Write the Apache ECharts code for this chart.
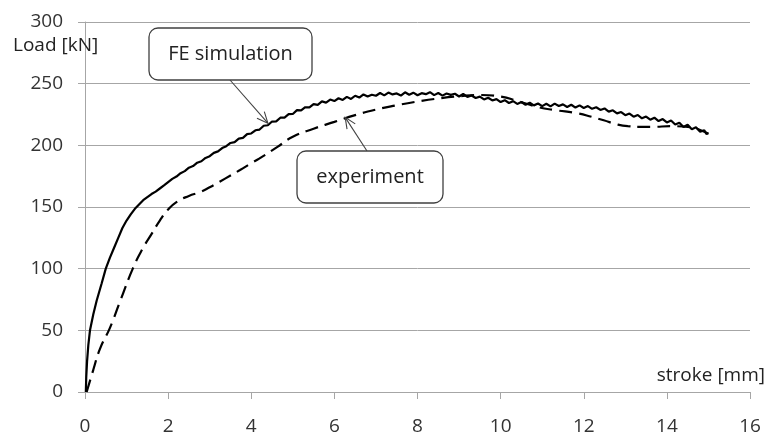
<!DOCTYPE html>
<html>
<head>
<meta charset="utf-8">
<title>Load - stroke</title>
<script src="https://cdn.jsdelivr.net/npm/echarts@6/dist/echarts.min.js"></script>
<style>
    html, body { margin: 0; padding: 0; background: #fff; }
    #curve_show { width: 770px; height: 437px; }
</style>
</head>
<body>
<div id="curve_show"></div>
<script>
// 轴刻度
var xTicks = [0, 2, 4, 6, 8, 10, 12, 14, 16];
var yTicks = [0, 50, 100, 150, 200, 250, 300];

// FE simulation: [stroke mm, load kN]
var feCurve = [
    [0.02, 0], [0.03, 12], [0.05, 25], [0.08, 38], [0.12, 50], [0.2, 63], [0.28, 74],
    [0.4, 88], [0.5, 100], [0.6, 109], [0.7, 117], [0.8, 125], [0.9, 133], [1.0, 139],
    [1.1, 144], [1.2, 148.5], [1.3, 152], [1.4, 155.5], [1.5, 158], [1.6, 160.5],
    [1.7, 162.5], [1.8, 165], [1.9, 167.5],
    [2.0, 170.2], [2.1, 172.8], [2.2, 174.7], [2.3, 177.4], [2.4, 179.1], [2.5, 181.9],
    [2.6, 183.2], [2.7, 185.9], [2.8, 187.1], [2.9, 189.8], [3.0, 191.2], [3.1, 193.9],
    [3.2, 195.1], [3.3, 197.8], [3.4, 199.3], [3.5, 201.9], [3.6, 202.6], [3.7, 205.5],
    [3.8, 206.0], [3.9, 209.1], [4.0, 209.6], [4.1, 212.2], [4.2, 212.8], [4.3, 215.9],
    [4.4, 216.3], [4.5, 219.3], [4.6, 219.4], [4.7, 222.4], [4.8, 222.5], [4.9, 225.3],
    [5.0, 225.4], [5.1, 228.5], [5.2, 228.3], [5.3, 230.9], [5.4, 230.7], [5.5, 233.4],
    [5.6, 232.8], [5.7, 235.6], [5.8, 234.6], [5.9, 237.1], [6.0, 235.9], [6.1, 238.2],
    [6.2, 236.8], [6.3, 239.3], [6.4, 237.6], [6.5, 240.2], [6.6, 238.7], [6.7, 241.3],
    [6.8, 239.6], [6.9, 241.0], [7.0, 240.2], [7.1, 242.4], [7.2, 240.5], [7.3, 242.8],
    [7.4, 241.3], [7.5, 242.1], [7.6, 240.4], [7.7, 243.0], [7.8, 241.0], [7.9, 242.7],
    [8.0, 240.6], [8.1, 242.3], [8.2, 241.5], [8.3, 243.1], [8.4, 240.7], [8.5, 242.4],
    [8.6, 240.3], [8.7, 242.0], [8.8, 240.9], [8.9, 241.8], [9.0, 239.6], [9.1, 241.6],
    [9.2, 239.3], [9.3, 240.4], [9.4, 238.4], [9.5, 239.5], [9.6, 237.2], [9.7, 238.6],
    [9.8, 236.4], [9.9, 237.5], [10.0, 235.1], [10.1, 236.6], [10.2, 234.3], [10.3, 235.8],
    [10.4, 233.6], [10.5, 235.1], [10.6, 232.9], [10.7, 234.5], [10.8, 232.4], [10.9, 233.9],
    [11.0, 231.8], [11.1, 233.7], [11.2, 231.6], [11.3, 233.8], [11.4, 231.9], [11.5, 233.2],
    [11.6, 231.1], [11.7, 232.9], [11.8, 230.6], [11.9, 232.4], [12.0, 230.3], [12.1, 231.8],
    [12.2, 229.6], [12.3, 230.9], [12.4, 228.7], [12.5, 229.9], [12.6, 227.3], [12.7, 228.4],
    [12.8, 225.9], [12.9, 227.0], [13.0, 224.4], [13.1, 225.8], [13.2, 223.2], [13.3, 224.6],
    [13.4, 221.9], [13.5, 223.3], [13.6, 220.8], [13.7, 222.4], [13.8, 219.7], [13.9, 221.3],
    [14.0, 218.6], [14.1, 220.1], [14.2, 216.9], [14.3, 218.4], [14.4, 214.8], [14.5, 216.7],
    [14.6, 213.1], [14.7, 214.6], [14.8, 211.0], [14.9, 212.2], [14.95, 209.3], [15.0, 209.8]
];

// experiment (虚线)
var expCurve = [
    [0.04, 0], [0.2, 18], [0.36, 35], [0.6, 52], [0.85, 74], [1.15, 100], [1.4, 117],
    [1.6, 128], [1.8, 139], [2.0, 148], [2.2, 154], [2.5, 159], [2.76, 162], [3.0, 166],
    [3.24, 170.5], [3.5, 175.5], [3.73, 180], [4.0, 185.5], [4.2, 189.4], [4.64, 199],
    [5.0, 207], [5.5, 213.5], [6.0, 219], [6.5, 224.5], [7.0, 229], [7.5, 232.5],
    [8.0, 235.5], [8.5, 238], [9.0, 239.8], [9.5, 240.8], [10.0, 239.5], [10.4, 236],
    [10.9, 231], [11.3, 228.6], [11.85, 226], [12.2, 223], [12.48, 220.3], [12.8, 217],
    [13.06, 215.5], [13.4, 215], [13.66, 215], [14.1, 215.5], [14.6, 214.5], [14.8, 212.5],
    [15.0, 209.5]
];

// 标注箭头指向的点
var feTip = [4.4, 218];
var expTip = [6.26, 222.7];

var font = '"Open Sans", "Noto Sans", sans-serif';
var gridColor = '#a6a6a6';

var myChart = echarts.init(document.getElementById('curve_show'));

var option = {
    animation: false,
    grid: {
        left: 85,
        right: 20,
        top: 22,
        bottom: 45
    },
    xAxis: {
        type: 'value',
        min: xTicks[0],
        max: xTicks[xTicks.length - 1],
        interval: xTicks[1] - xTicks[0],
        axisLine: { show: true, lineStyle: { color: gridColor, width: 1 } },
        axisTick: { show: true, length: 7, lineStyle: { color: gridColor } },
        splitLine: { show: false },
        axisLabel: { color: '#333', fontFamily: font, fontSize: 19, margin: 25 }
    },
    yAxis: {
        type: 'value',
        min: yTicks[0],
        max: yTicks[yTicks.length - 1],
        interval: yTicks[1] - yTicks[0],
        axisLine: { show: true, lineStyle: { color: gridColor, width: 1 } },
        axisTick: { show: true, length: 7, lineStyle: { color: gridColor } },
        splitLine: { show: true, lineStyle: { color: gridColor, width: 1 } },
        axisLabel: { color: '#333', fontFamily: font, fontSize: 19, margin: 22 }
    },
    series: [{
        name: 'FE simulation',
        type: 'line',
        data: feCurve,
        showSymbol: false,
        lineStyle: { color: '#000', width: 2.2 },
        z: 3
    }, {
        name: 'experiment',
        type: 'line',
        data: expCurve,
        smooth: true,
        showSymbol: false,
        lineStyle: { color: '#000', width: 2.2, type: [13, 7] },
        z: 3
    }]
};
myChart.setOption(option);

// 箭头 (开口的V)
function arrow(from, tip) {
    var a = Math.atan2(tip[1] - from[1], tip[0] - from[0]);
    var len = 12, s = 0.42;
    var p1 = [tip[0] - len * Math.cos(a - s), tip[1] - len * Math.sin(a - s)];
    var p2 = [tip[0] - len * Math.cos(a + s), tip[1] - len * Math.sin(a + s)];
    var st = { stroke: '#404040', lineWidth: 1.1, fill: null };
    return [
        { type: 'line', shape: { x1: from[0], y1: from[1], x2: tip[0], y2: tip[1] }, style: st, z: 10 },
        { type: 'polyline', shape: { points: [p1, tip, p2] }, style: st, z: 10 }
    ];
}

function callout(x, y, w, h, text) {
    return [{
        type: 'rect',
        shape: { x: x, y: y, width: w, height: h, r: 9 },
        style: { fill: '#fff', stroke: '#404040', lineWidth: 1.3 },
        z: 11
    }, {
        type: 'text',
        x: x + w / 2,
        y: y + h / 2,
        style: {
            text: text, fill: '#222', font: '20px ' + font,
            align: 'center', verticalAlign: 'middle'
        },
        z: 12
    }];
}

var feTipPx = myChart.convertToPixel({ gridIndex: 0 }, feTip);
var expTipPx = myChart.convertToPixel({ gridIndex: 0 }, expTip);

var graphics = []
    .concat(arrow([230, 80], feTipPx))
    .concat(arrow([367, 151], expTipPx))
    .concat(callout(149, 28, 163, 52, 'FE simulation'))
    .concat(callout(297, 151, 146, 52, 'experiment'))
    .concat([{
        type: 'text', left: 13, top: 36,
        style: { text: 'Load [kN]', fill: '#222', font: '19px ' + font },
        z: 12
    }, {
        type: 'text', right: 5, top: 366,
        style: { text: 'stroke [mm]', fill: '#222', font: '19px ' + font },
        z: 12
    }]);

myChart.setOption({ graphic: graphics });
</script>
</body>
</html>
